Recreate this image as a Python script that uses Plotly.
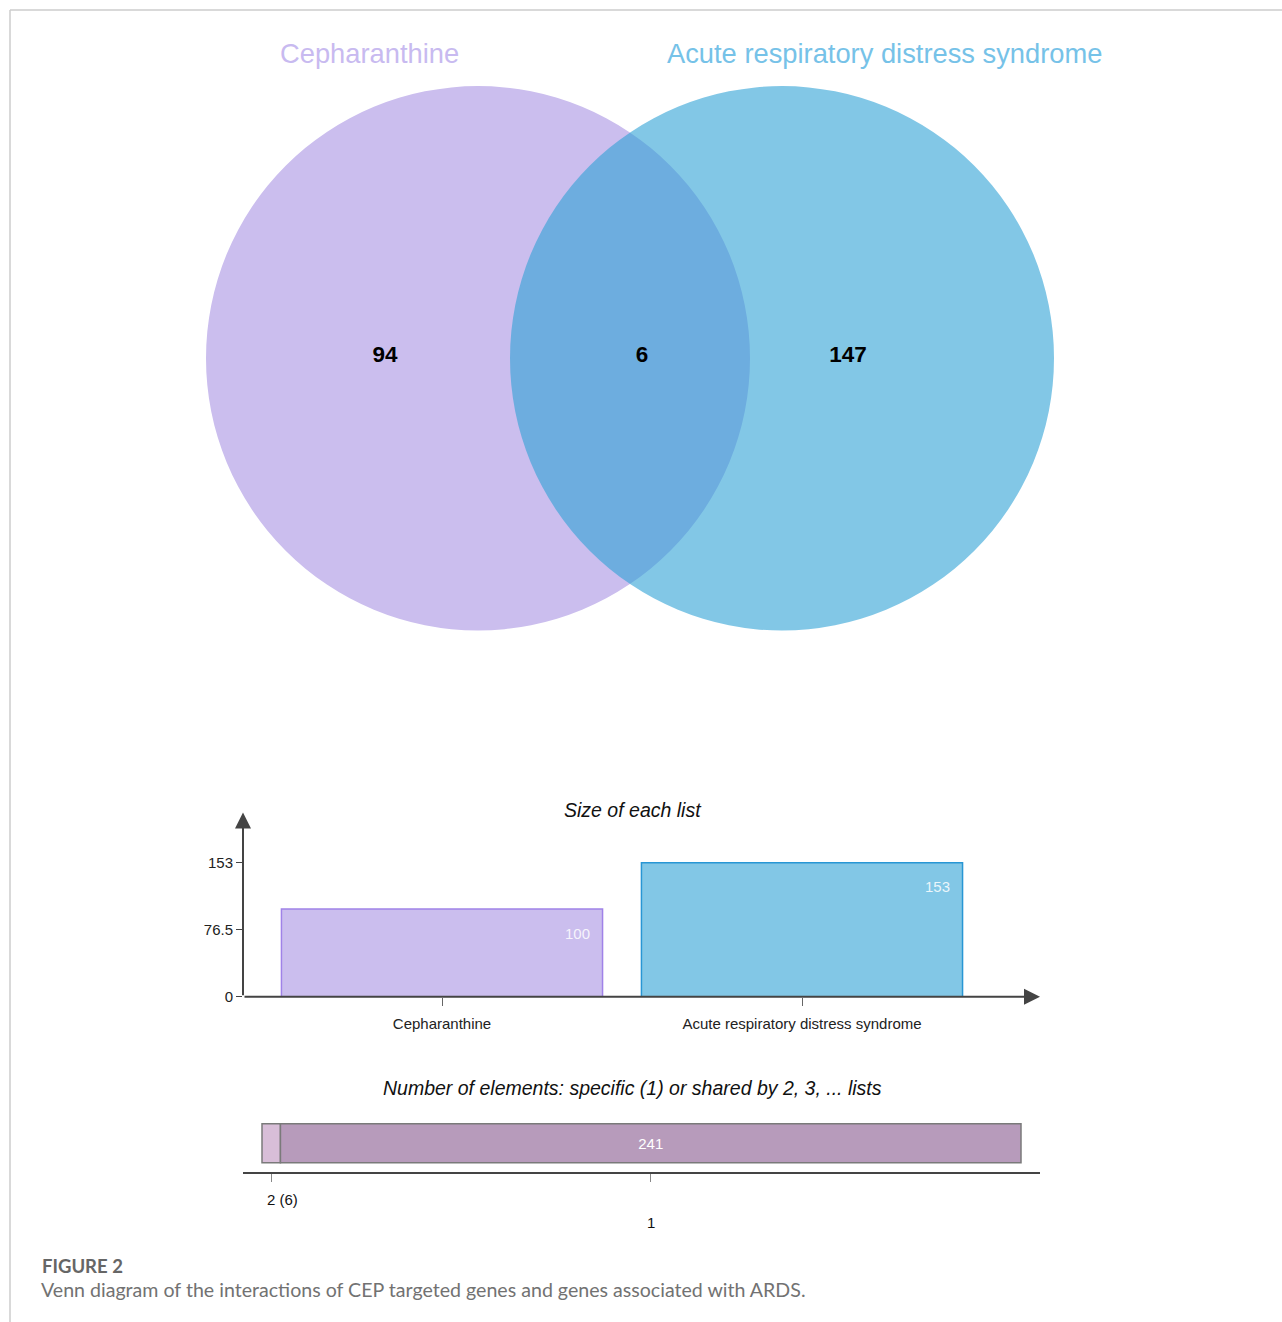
import plotly.graph_objects as go

# ---------------- data ----------------
set_names = ["Cepharanthine", "Acute respiratory distress syndrome"]
venn_counts = [94, 6, 147]          # only A, A∩B, only B
list_sizes = [100, 153]
share_levels = ["2", "1"]           # shared by n lists
share_counts = [6, 241]

W, H = 1282, 1322
def fx(px):
    return px / W
def fy(py):
    return 1 - py / H

FONT = "Liberation Sans, Arial"
fig = go.Figure()

# ---------------- Venn (pixel-space axes) ----------------
venn_fill = ["rgb(203,190,238)", "rgb(47,162,213)"]
venn_opacity = [1.0, 0.6]
centers = [(478, 358), (782, 358)]
R = 272
for (cx, cy), col, op in zip(centers, venn_fill, venn_opacity):
    fig.add_shape(type="circle", xref="x", yref="y",
                  x0=cx - R, x1=cx + R, y0=cy - R, y1=cy + R,
                  fillcolor=col, opacity=op, line=dict(width=0), layer="below")

count_pos_x = [385, 642, 848]
fig.add_trace(go.Scatter(x=count_pos_x, y=[356] * 3, mode="text",
                         text=[str(v) for v in venn_counts],
                         textfont=dict(family=FONT, size=22.5, color="#000000"),
                         texttemplate="<b>%{text}</b>",
                         hoverinfo="skip", showlegend=False, xaxis="x", yaxis="y"))

label_cols = ["rgb(200,186,240)", "rgb(118,194,232)"]
label_x = [369, 884]
for name, col, lx in zip(set_names, label_cols, label_x):
    fig.add_annotation(x=lx, y=53, xref="x", yref="y", text=name, showarrow=False,
                       xanchor="center", yanchor="middle",
                       font=dict(family=FONT, size=27.3, color=col))

# ---------------- Size of each list ----------------
bar_fill = ["rgb(203,190,238)", "rgb(130,199,230)"]
bar_line = ["rgb(160,130,232)", "rgb(40,150,212)"]
cat_x = list(range(len(set_names)))
bw = 0.892
fig.add_trace(go.Bar(x=cat_x, y=list_sizes, width=bw,
                     marker=dict(color=bar_fill, line=dict(color=bar_line, width=1.5)),
                     hoverinfo="skip", showlegend=False, xaxis="x2", yaxis="y2"))
x2_min = (243 - 442) / 360
x2_max = (1040 - 442) / 360
ymax = max(list_sizes)
y2_top = ymax * (996 - 812) / (996 - 862)
for i, v in zip(cat_x, list_sizes):
    fig.add_annotation(x=i + bw / 2 - 0.028, y=v, xref="x2", yref="y2", text=str(v),
                       xanchor="right", yanchor="middle", yshift=-24, showarrow=False,
                       font=dict(family=FONT, size=15, color="rgba(255,255,255,0.85)"))
# axis arrows
fig.add_annotation(x=x2_min, y=y2_top, ax=x2_min, ay=0, xref="x2", yref="y2",
                   axref="x2", ayref="y2", text="", showarrow=True,
                   arrowhead=2, arrowsize=1.6, arrowwidth=2, arrowcolor="#444444")
fig.add_annotation(x=x2_max, y=0, ax=x2_min, ay=0, xref="x2", yref="y2",
                   axref="x2", ayref="y2", text="", showarrow=True,
                   arrowhead=2, arrowsize=1.6, arrowwidth=2, arrowcolor="#444444")
fig.add_annotation(x=fx(633), y=fy(809), xref="paper", yref="paper",
                   text="<i>Size of each list</i>", showarrow=False,
                   xanchor="center", yanchor="middle",
                   font=dict(family=FONT, size=19.5, color="#111111"))

# ---------------- Number of elements ----------------
share_fill = ["rgb(216,190,216)", "rgb(183,155,187)"]
bases = [sum(share_counts[:i]) for i in range(len(share_counts))]
mids = [b + c / 2 for b, c in zip(bases, share_counts)]
fig.add_trace(go.Bar(y=[0.432] * len(share_counts), x=share_counts, base=bases,
                     orientation="h", width=0.591,
                     marker=dict(color=share_fill, line=dict(color="#7a7a7a", width=1.5)),
                     text=["", str(share_counts[1])], textposition="inside",
                     insidetextanchor="middle",
                     textfont=dict(family=FONT, size=15, color="white"),
                     hoverinfo="skip", showlegend=False, xaxis="x3", yaxis="y3"))
total = sum(share_counts)
ppu = (1021 - 262) / total
x3_min = (243 - 262) / ppu
x3_max = (1040 - 262) / ppu
share_labels = [f"{share_levels[0]} ({share_counts[0]})", share_levels[1]]
label_y = [1199, 1222]
for k, (m, t, ly) in enumerate(zip(mids, share_labels, label_y)):
    fig.add_annotation(x=m, y=fy(ly), xref="x3", yref="paper", text=t, showarrow=False,
                       xanchor="left" if k == 0 else "center", yanchor="middle",
                       xshift=-6 if k == 0 else 0,
                       font=dict(family=FONT, size=15, color="#111111"))
fig.add_annotation(x=fx(632), y=fy(1087), xref="paper", yref="paper",
                   text="<i>Number of elements: specific (1) or shared by 2, 3, ... lists</i>",
                   showarrow=False, xanchor="center", yanchor="middle",
                   font=dict(family=FONT, size=19.5, color="#111111"))

# ---------------- caption & frame ----------------
fig.add_annotation(x=fx(40), y=fy(1265), xref="paper", yref="paper", text="<b>FIGURE 2</b>",
                   xanchor="left", yanchor="middle", showarrow=False,
                   font=dict(family="Lato", size=18.5, color="#666666"))
fig.add_annotation(x=fx(39), y=fy(1289), xref="paper", yref="paper",
                   text="Venn diagram of the interactions of CEP targeted genes and genes associated with ARDS.",
                   xanchor="left", yanchor="middle", showarrow=False,
                   font=dict(family="Lato", size=19.6, color="#727272"))
fig.add_shape(type="line", xref="paper", yref="paper", x0=fx(10), x1=1, y0=fy(10), y1=fy(10),
              line=dict(color="#cccccc", width=1.5))
fig.add_shape(type="line", xref="paper", yref="paper", x0=fx(10), x1=fx(10), y0=fy(10), y1=0,
              line=dict(color="#cccccc", width=1.5))

hidden = dict(visible=False, showgrid=False, zeroline=False)
fig.update_layout(
    width=W, height=1331, margin=dict(l=0, r=0, t=0, b=0),
    paper_bgcolor="white", plot_bgcolor="rgba(0,0,0,0)",
    font=dict(family=FONT, color="#222222"),
    xaxis=dict(domain=[0, 1], range=[0, W], **hidden),
    yaxis=dict(domain=[0, 1], range=[H, 0], **hidden),
    xaxis2=dict(domain=[fx(243), fx(1040)], range=[x2_min, x2_max], anchor="y2",
                tickvals=cat_x, ticktext=set_names, ticks="outside", ticklen=8,
                ticklabelstandoff=5,
                tickcolor="#666666", showgrid=False, zeroline=False, showline=False,
                tickfont=dict(size=15, color="#222222")),
    yaxis2=dict(domain=[fy(996), fy(812)], range=[0, y2_top], anchor="x2",
                tickvals=[0, ymax / 2, ymax], ticktext=["0", f"{ymax/2:g}", str(ymax)],
                ticks="outside", ticklen=6, tickcolor="#444444", showgrid=False,
                zeroline=False, showline=False, tickfont=dict(size=15, color="#222222")),
    xaxis3=dict(domain=[fx(243), fx(1040)], range=[x3_min, x3_max], anchor="y3",
                tickvals=mids, ticktext=["", ""], ticks="outside", ticklen=8,
                tickcolor="#888888", showgrid=False, zeroline=False, showline=True,
                linecolor="#444444", linewidth=2),
    yaxis3=dict(domain=[fy(1171), fy(1105)], range=[0, 1], anchor="x3", **hidden),
    barmode="overlay",
)
fig.write_html("out.html")
